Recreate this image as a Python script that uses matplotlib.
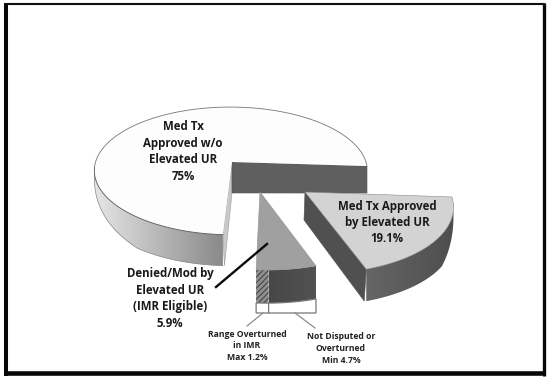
import numpy as np
import matplotlib
matplotlib.use("Agg")
import matplotlib.pyplot as plt
from matplotlib.patches import Polygon, Rectangle

# ---- data ----
slice_values = [19.1, 5.9, 75.0]          # clockwise from 3 o'clock
sub_values = [4.7, 1.2]                   # parts of the 5.9 slice, clockwise
main_label = "Med Tx\nApproved w/o\nElevated UR\n75%"
approved_label = "Med Tx Approved\nby Elevated UR\n19.1%"
denied_label = "Denied/Mod by\nElevated UR\n(IMR Eligible)\n5.9%"
range_label = "Range Overturned\nin IMR\nMax 1.2%"
min_label = "Not Disputed or\nOverturned\nMin 4.7%"

plt.rcParams["font.family"] = ["Open Sans", "DejaVu Sans"]
plt.rcParams["hatch.linewidth"] = 0.8

fig = plt.figure(figsize=(5.5, 3.79), dpi=100)
ax = fig.add_axes([0, 0, 1, 1])
ax.axis("off")

K = 0.14


def project(theta_deg, geo):
    """Perspective ellipse point for a pie angle, in pixel coordinates."""
    t = np.radians(np.asarray(theta_deg, dtype=float))
    X, Y = np.cos(t), np.sin(t)
    s = 1 / (1 + K * Y)
    dx = geo["a"] * X * s
    dy = -geo["b"] * Y * s
    return np.column_stack([geo["cx"] + dx + geo["shear"] * dy,
                            geo["cy"] + dy + geo["tilt"] * dx])


def arc(t0, t1, geo, n=120):
    return project(np.linspace(t0, t1, n), geo)


def gradient_wall(top_pts, bottom_pts, c0, c1, z):
    """Fill the band between two rims with a horizontal grey gradient."""
    poly = np.vstack([top_pts, bottom_pts[::-1]])
    x0, x1 = poly[:, 0].min(), poly[:, 0].max()
    y0, y1 = poly[:, 1].min(), poly[:, 1].max()
    cm = matplotlib.colors.LinearSegmentedColormap.from_list("g", [c0, c1])
    x_first, x_last = top_pts[0, 0], top_pts[-1, 0]
    grad = np.linspace(0, 1, 256)[None, :]
    if x_first > x_last:
        grad = grad[:, ::-1]
    im = ax.imshow(grad, extent=(x0, x1, y1, y0), cmap=cm, aspect="auto",
                   zorder=z, interpolation="bilinear")
    patch = Polygon(poly, closed=True, transform=ax.transData, fc="none", ec="none")
    ax.add_patch(patch)
    im.set_clip_path(patch)


main = dict(cx=232, cy=162, a=135, b=62.5, shear=-0.125, tilt=0.03, th=31)
appr = dict(cx=305, cy=192, a=147, b=70, shear=0.0, tilt=0.034, th=32)
deny = dict(cx=260, cy=192, a=143, b=67, shear=-0.05, tilt=0.035, th=33)

# angles derived from the values (clockwise from 0)
sweep = [v * 3.6 for v in slice_values]
a1 = -sweep[0]                 # end of approved slice
a2 = a1 - sweep[1]             # end of denied slice (= -90)
a_sub = a1 - sub_values[0] * 3.6
main_start, main_end = 0.0, 360 - sweep[0] - sweep[1]

# ---- frame ----
ax.add_patch(Rectangle((5.5, 3.7), 537.5, 369.5, fc="white", ec="none", zorder=0))
ax.plot([5.5, 5.5], [3, 375.5], color="#080808", lw=2.9, solid_capstyle="butt", zorder=10)
ax.plot([543.5, 543.5], [3, 375.5], color="#080808", lw=2.4, solid_capstyle="butt", zorder=10)
ax.plot([3.5, 545], [3.8, 3.8], color="#101010", lw=1.5, solid_capstyle="butt", zorder=10)
ax.plot([3.5, 545], [373.3, 373.3], color="#080808", lw=3.3, solid_capstyle="butt", zorder=10)

# ---- main slice ----
ts = np.linspace(188, main_end, 150)
rim = project(ts, main)
lower = rim + np.column_stack([np.zeros_like(ts),
                               main["th"] * np.clip((ts - 188) / 47, 0, 1) ** 0.6])
gradient_wall(rim, lower, "#e6e6e6", "#8a8a8a", 1)
ax.plot(lower[:, 0], lower[:, 1], color="#858585", lw=0.5, zorder=2)
ax.plot(rim[:, 0], rim[:, 1], color="#555555", lw=0.6, zorder=4)
top_main = np.vstack([[main["cx"], main["cy"]], arc(main_start, main_end, main, 300)])
end_pt = project(main_end, main)[0]
start_pt = project(main_start, main)[0]
# end face (light sliver)
ax.add_patch(Polygon([[main["cx"], main["cy"]], [main["cx"], main["cy"] + main["th"]],
                      end_pt + [1.5, main["th"]], end_pt],
                     closed=True, fc="#c9c9c9", ec="#9a9a9a", lw=0.4, zorder=2))
# inner dark face
ax.add_patch(Polygon([[main["cx"], main["cy"]], start_pt, start_pt + [0, main["th"] - 4],
                      [main["cx"], main["cy"] + main["th"]]],
                     closed=True, fc="#5f5f5f", ec="#555555", lw=0.4, zorder=2))
ax.add_patch(Polygon(top_main, closed=True, fc="#fdfdfd", ec="none", zorder=3))
outline = arc(main_start, 188, main, 240)
ax.plot(outline[:, 0], outline[:, 1], color="#777777", lw=0.6, zorder=4)

# ---- approved slice ----
p0 = np.array([appr["cx"], appr["cy"]], dtype=float)
p1 = project(a1, appr)[0]
ax.add_patch(Polygon([p0, p1, p1 + [-2, appr["th"]], p0 + [-1, 28]],
                     closed=True, fc="#505050", ec="#505050", lw=0.4, zorder=2))
ts = np.linspace(a1, -4, 100)
rim = project(ts, appr)
lower = rim + np.column_stack([np.zeros_like(ts),
                               appr["th"] * np.clip((-4 - ts) / 26, 0, 1) ** 0.7])
gradient_wall(rim, lower, "#666666", "#4e4e4e", 2)
ax.add_patch(Polygon(np.vstack([p0, arc(0, a1, appr)]), closed=True,
                     fc="#d3d3d3", ec="#8a8a8a", lw=0.4, zorder=3))

# ---- denied slice ----
rim = arc(a_sub, a1, deny, 40)
gradient_wall(rim, rim + [0, deny["th"]], "#474747", "#525252", 2)
sub_wall = np.vstack([arc(a2, a_sub, deny, 20), arc(a_sub, a2, deny, 20) + [0, deny["th"]]])
ax.add_patch(Polygon(sub_wall, closed=True, fc="#8f8f8f", ec="#444444", lw=0,
                     hatch="//////", zorder=2))
q0 = np.array([deny["cx"], deny["cy"]], dtype=float)
ax.add_patch(Polygon(np.vstack([q0, arc(a1, a2, deny, 40)]), closed=True,
                     fc="#a0a0a0", ec="#909090", lw=0.4, zorder=3))

# boxes below the denied slice
box_bottom = 313
for t0, t1 in [(a2, a_sub), (a_sub, a1)]:
    edge = arc(t0, t1, deny, 20) + [0, deny["th"]]
    poly = np.vstack([edge, [edge[-1, 0], box_bottom], [edge[0, 0], box_bottom]])
    ax.add_patch(Polygon(poly, closed=True, fc="white", ec="#777777", lw=0.9, zorder=4))

# leaders
ax.plot([263, 247], [313, 326], color="#8c8c8c", lw=0.9, zorder=4)
ax.plot([295, 315], [313, 328], color="#8c8c8c", lw=0.9, zorder=4)
ax.plot([267, 216], [244, 287], color="#0a0a0a", lw=1.7, zorder=5)

# ---- text ----
big = dict(ha="center", va="center", fontsize=8.3, fontweight="bold", color="#1a1a1a",
           linespacing=1.34, zorder=6)
small = dict(ha="center", va="center", fontsize=6.2, fontweight="bold", color="#222222",
             linespacing=1.39, zorder=6)
ax.text(183, 151.5, main_label, **big)
ax.text(387, 222.5, approved_label, **big)
ax.text(170, 298.5, denied_label, **big)
ax.text(247, 346, range_label, **small)
ax.text(341, 348.5, min_label, **small)

ax.set_xlim(0, 550)
ax.set_ylim(379, 0)
fig.savefig("out.png", dpi=100)
